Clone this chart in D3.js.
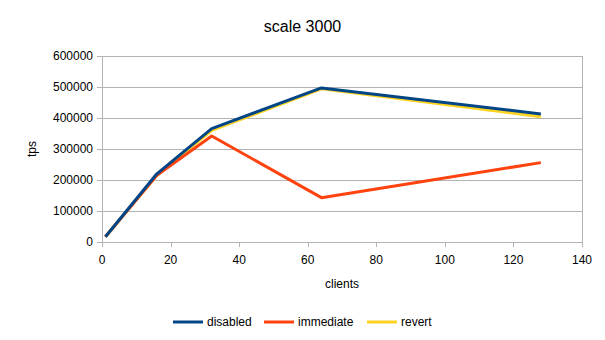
<!DOCTYPE html>
<html>
<head>
<meta charset="utf-8">
<script src="https://cdn.jsdelivr.net/npm/d3@7"></script>
<style>
  body { margin: 0; background: #fff; }
  text { font-family: "Liberation Sans", Arial, sans-serif; fill: #000; }
</style>
</head>
<body>
<div id="container"></div>
<script>
// data
const clients = [1, 16, 32, 64, 128];
const disabled = [17000, 220000, 366000, 497000, 413000];
const immediate = [17000, 215000, 342000, 143000, 256000];
const revert = [17000, 215000, 360000, 494000, 404000];
const xTicks = [0, 20, 40, 60, 80, 100, 120, 140];
const yTicks = [0, 100000, 200000, 300000, 400000, 500000, 600000];

const series = [
  {name: "disabled", values: disabled, color: "#004586"},
  {name: "immediate", values: immediate, color: "#ff420e"},
  {name: "revert", values: revert, color: "#ffd320"}
];

const width = 605, height = 340,
    margin = {top: 56, bottom: 98, left: 102, right: 23};

const svg = d3.select("#container")
  .append("svg")
  .attr("width", width)
  .attr("height", height);

const xScale = d3.scaleLinear()
  .domain([0, 140])
  .range([margin.left, width - margin.right]);

const yScale = d3.scaleLinear()
  .domain([0, 600000])
  .range([height - margin.bottom, margin.top]);

// gridlines
svg.append("g")
  .selectAll("line")
  .data(yTicks)
  .join("line")
  .attr("x1", margin.left - 5)
  .attr("x2", width - margin.right)
  .attr("y1", d => Math.round(yScale(d)) + 0.5)
  .attr("y2", d => Math.round(yScale(d)) + 0.5)
  .attr("stroke", "#b3b3b3");

// plot frame sides
svg.append("line")
  .attr("x1", Math.round(xScale(0)) + 0.5).attr("x2", Math.round(xScale(0)) + 0.5)
  .attr("y1", yScale(600000)).attr("y2", yScale(0) + 5)
  .attr("stroke", "#b3b3b3");
svg.append("line")
  .attr("x1", Math.round(xScale(140)) + 0.5).attr("x2", Math.round(xScale(140)) + 0.5)
  .attr("y1", yScale(600000)).attr("y2", yScale(0) + 5)
  .attr("stroke", "#b3b3b3");

// x ticks
svg.append("g")
  .selectAll("line")
  .data(xTicks)
  .join("line")
  .attr("x1", d => Math.round(xScale(d)) + 0.5)
  .attr("x2", d => Math.round(xScale(d)) + 0.5)
  .attr("y1", yScale(0))
  .attr("y2", yScale(0) + 5)
  .attr("stroke", "#b3b3b3");

svg.append("g")
  .selectAll("text")
  .data(xTicks)
  .join("text")
  .attr("x", d => xScale(d))
  .attr("y", yScale(0) + 22)
  .attr("text-anchor", "middle")
  .attr("font-size", 12)
  .text(d => d);

svg.append("g")
  .selectAll("text")
  .data(yTicks)
  .join("text")
  .attr("x", margin.left - 9)
  .attr("y", d => yScale(d) + 4)
  .attr("text-anchor", "end")
  .attr("font-size", 12)
  .text(d => d);

// titles
svg.append("text")
  .attr("x", width / 2).attr("y", 32)
  .attr("text-anchor", "middle")
  .attr("font-size", 16)
  .text("scale 3000");

svg.append("text")
  .attr("x", (xScale(0) + xScale(140)) / 2).attr("y", 288)
  .attr("text-anchor", "middle")
  .attr("font-size", 12)
  .text("clients");

svg.append("text")
  .attr("transform", `translate(36, ${(yScale(0) + yScale(600000)) / 2}) rotate(-90)`)
  .attr("text-anchor", "middle")
  .attr("font-size", 12)
  .text("tps");

// lines
const lineGen = d3.line()
  .x((d, i) => xScale(clients[i]))
  .y(d => yScale(d));

const drawOrder = [series[2], series[1], series[0]];
svg.selectAll("path.line")
  .data(drawOrder)
  .join("path")
  .attr("class", "line")
  .attr("fill", "none")
  .attr("stroke", d => d.color)
  .attr("stroke-width", 3)
  .attr("stroke-linejoin", "round")
  .attr("d", d => lineGen(d.values));

// legend
const legendX = [173, 264, 367];
const legend = svg.append("g")
  .selectAll("g")
  .data(series)
  .join("g")
  .attr("transform", (d, i) => `translate(${legendX[i]}, 322)`);

legend.append("line")
  .attr("x1", 0).attr("x2", 30)
  .attr("stroke", d => d.color)
  .attr("stroke-width", 3);

legend.append("text")
  .attr("x", 34).attr("y", 4)
  .attr("font-size", 12)
  .text(d => d.name);
</script>
</body>
</html>
